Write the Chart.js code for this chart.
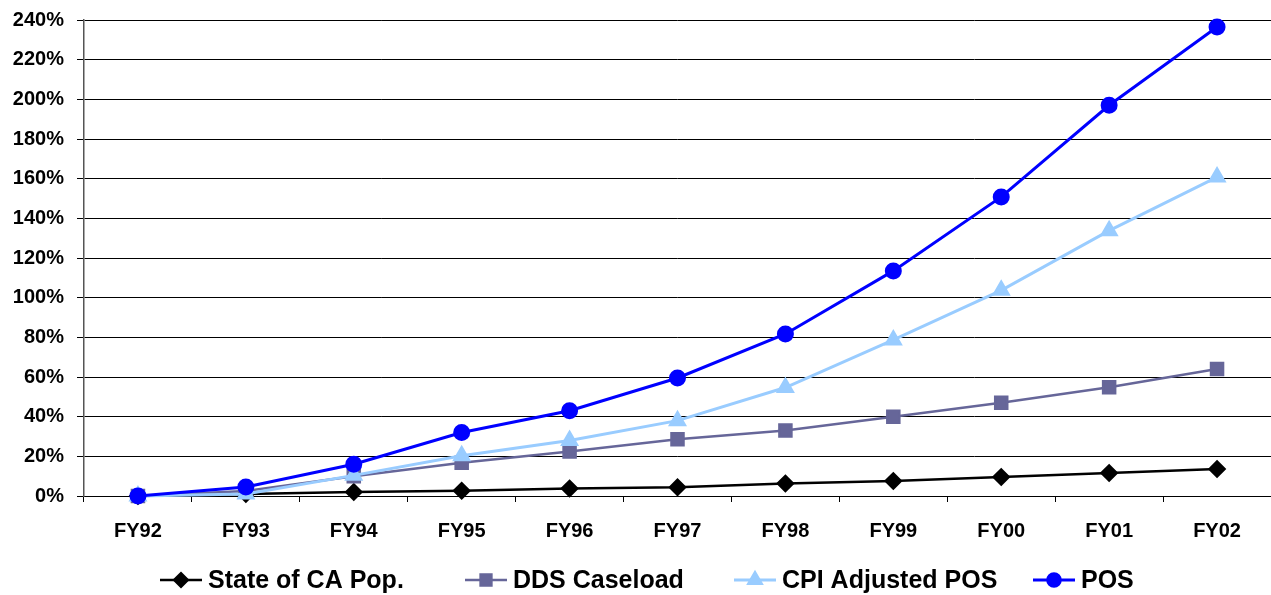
<!DOCTYPE html>
<html>
<head>
<meta charset="utf-8">
<script src="https://cdn.jsdelivr.net/npm/chart.js@4"></script>
<style>
  html, body { margin: 0; padding: 0; background: #fff; }
  #wrap { width: 1271px; height: 595px; position: relative; }
</style>
</head>
<body>
<div id="wrap"><canvas id="chart"></canvas></div>
<script>
// Dữ liệu (% tăng so với FY92)
const categories = ['FY92', 'FY93', 'FY94', 'FY95', 'FY96', 'FY97', 'FY98', 'FY99', 'FY00', 'FY01', 'FY02'];
const statePop = [0, 1, 2, 2.7, 3.8, 4.4, 6.3, 7.6, 9.6, 11.6, 13.6];
const ddsCaseload = [0, 2.5, 10, 16.8, 22.4, 28.6, 33, 40, 47, 54.8, 64];
const cpiPos = [0, 1, 10.4, 20.3, 28, 38, 54.7, 78.7, 103.7, 133.8, 160.8];
const pos = [0, 4.5, 16, 32, 43, 59.5, 81.7, 113.5, 150.8, 197, 236.5];
const seriesNames = ['State of CA Pop.', 'DDS Caseload', 'CPI Adjusted POS', 'POS'];
const yTicks = [0, 20, 40, 60, 80, 100, 120, 140, 160, 180, 200, 220, 240];

const FONT = '"Liberation Sans", Arial, sans-serif';

// Chú thích tự vẽ: đường + điểm ở giữa, rồi chữ
const legendX = [160, 465, 734, 1033];
const bottomLegend = {
  id: 'bottomLegend',
  afterDraw(chart) {
    const ctx = chart.ctx;
    const y = 580;
    ctx.save();
    chart.data.datasets.forEach((ds, i) => {
      const x0 = legendX[i];
      const lineLen = 42;
      ctx.strokeStyle = ds.borderColor;
      ctx.lineWidth = ds.borderWidth;
      ctx.beginPath();
      ctx.moveTo(x0, y);
      ctx.lineTo(x0 + lineLen, y);
      ctx.stroke();
      ctx.fillStyle = ds.pointBackgroundColor;
      ctx.strokeStyle = ds.pointBorderColor;
      Chart.helpers.drawPoint(ctx, {
        pointStyle: ds.pointStyle,
        radius: ds.pointRadius * 0.9,
        borderWidth: 1
      }, x0 + lineLen / 2, y);
      ctx.fillStyle = '#000';
      ctx.font = 'bold 25px ' + FONT;
      ctx.textBaseline = 'middle';
      ctx.textAlign = 'left';
      ctx.fillText(ds.label, x0 + lineLen + 6, y + 1);
    });
    ctx.restore();
  }
};

function makeSet(label, data, color, style, radius, width, order) {
  return {
    label, data, order,
    borderColor: color,
    backgroundColor: color,
    pointBackgroundColor: color,
    pointBorderColor: color,
    borderWidth: width,
    pointStyle: style,
    pointRadius: radius,
    pointHoverRadius: radius,
    tension: 0,
    clip: false
  };
}

new Chart(document.getElementById('chart'), {
  type: 'line',
  data: {
    labels: categories,
    datasets: [
      makeSet(seriesNames[0], statePop, '#000000', 'rectRot', 7.5, 2.5, 4),
      makeSet(seriesNames[1], ddsCaseload, '#666699', 'rect', 8.5, 2.5, 3),
      makeSet(seriesNames[2], cpiPos, '#99CCFF', 'triangle', 8, 3, 2),
      makeSet(seriesNames[3], pos, '#0000FF', 'circle', 7, 3, 1)
    ]
  },
  options: {
    responsive: true,
    maintainAspectRatio: false,
    animation: false,
    layout: { autoPadding: false, padding: { top: 20, right: 0, left: 0, bottom: 0 } },
    plugins: {
      legend: { display: false },
      tooltip: { enabled: false }
    },
    scales: {
      x: {
        offset: true,
        grid: {
          offset: true,
          drawOnChartArea: false,
          drawTicks: true,
          tickLength: 6,
          color: '#000'
        },
        border: { color: '#000', width: 1 },
        ticks: {
          color: '#000',
          font: { family: FONT, size: 20, weight: 'bold' },
          padding: 17,
          maxRotation: 0
        },
        afterFit(scale) {
          scale.height = 99;
          scale.paddingLeft = 0;
          scale.paddingRight = 0;
        }
      },
      y: {
        min: 0,
        max: 240,
        afterBuildTicks(scale) { scale.ticks = yTicks.map(v => ({ value: v })); },
        grid: {
          color: '#000',
          lineWidth: 1,
          drawTicks: true,
          tickLength: 7
        },
        border: { color: '#555', width: 1.5 },
        ticks: {
          color: '#000',
          font: { family: FONT, size: 20, weight: 'bold' },
          padding: 13,
          callback: v => v + '%'
        },
        afterFit(scale) {
          scale.width = 84;
          scale.paddingTop = 0;
          scale.paddingBottom = 0;
        }
      }
    }
  },
  plugins: [bottomLegend]
});
</script>
</body>
</html>
